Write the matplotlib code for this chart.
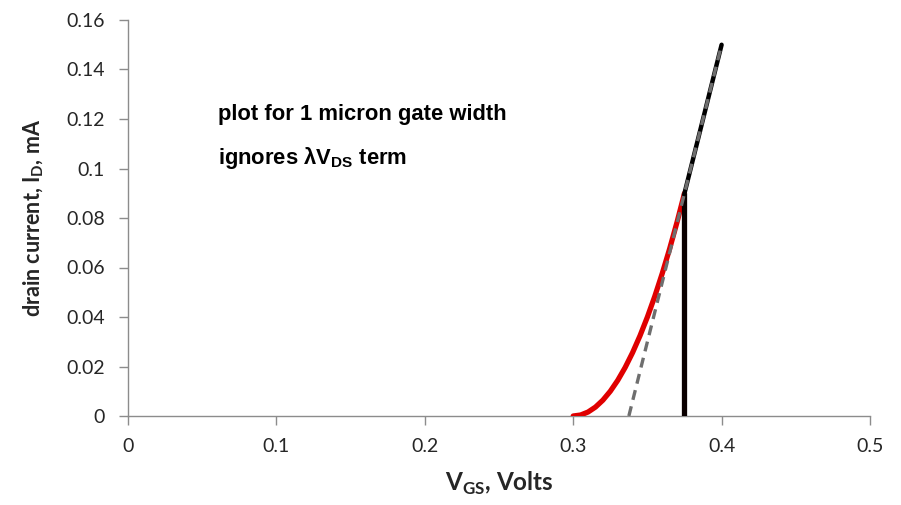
import matplotlib
matplotlib.use("Agg")
import matplotlib.pyplot as plt

# ---- data ----
vgs_red = [0.300, 0.305, 0.310, 0.315, 0.320, 0.325, 0.330, 0.335, 0.340,
           0.345, 0.350, 0.355, 0.360, 0.365, 0.370, 0.375]
id_red = [0.0, 0.0004, 0.0016, 0.0036, 0.0064, 0.0100, 0.0144, 0.0196, 0.0256,
          0.0324, 0.0400, 0.0484, 0.0576, 0.0676, 0.0784, 0.0900]
vgs_black = [0.375, 0.400]
id_black = [0.090, 0.150]
vgs_dash = [0.3375, 0.400]
id_dash = [0.0, 0.150]
vgs_vert = [0.375, 0.375]
id_vert = [0.0, 0.090]

x_ticks = [0, 0.1, 0.2, 0.3, 0.4, 0.5]
x_labels = ["0", "0.1", "0.2", "0.3", "0.4", "0.5"]
y_ticks = [0, 0.02, 0.04, 0.06, 0.08, 0.10, 0.12, 0.14, 0.16]
y_labels = ["0", "0.02", "0.04", "0.06", "0.08", "0.1", "0.12", "0.14", "0.16"]

plt.rcParams['font.family'] = ['Lato', 'DejaVu Sans']
plt.rcParams['mathtext.fontset'] = 'custom'
plt.rcParams['mathtext.rm'] = 'Lato'
plt.rcParams['mathtext.bf'] = 'Lato:bold'
plt.rcParams['mathtext.sf'] = 'Liberation Sans:bold'

fig = plt.figure(figsize=(9.01, 5.05), dpi=100)
ax = fig.add_axes([128/901, 1-416/505, (870-128)/901, (416-20)/505])

ax.plot(vgs_red, id_red, color='#e00000', lw=3.8, solid_capstyle='round', zorder=3)
ax.plot(vgs_vert, id_vert, color='#0a0000', lw=3.8, solid_capstyle='butt', zorder=3)
ax.plot(vgs_black, id_black, color='#000000', lw=3.2, solid_capstyle='round', zorder=3)
ax.plot(vgs_dash, id_dash, color='#6e6e6e', lw=2.4, dashes=(3.0, 2.0), zorder=4)

ax.set_xlim(0, 0.5)
ax.set_ylim(0, 0.16)
ax.set_xticks(x_ticks)
ax.set_xticklabels(x_labels)
ax.set_yticks(y_ticks)
ax.set_yticklabels(y_labels)

for s in ['top', 'right']:
    ax.spines[s].set_visible(False)
for s in ['left', 'bottom']:
    ax.spines[s].set_color('#8c8c8c')
    ax.spines[s].set_linewidth(1.0)
    ax.spines[s].set_zorder(1)
ax.tick_params(axis='both', direction='out', length=6.5, width=1.0, color='#8c8c8c',
               labelsize=14, labelcolor='#262626')
ax.tick_params(axis='x', pad=9)
ax.tick_params(axis='y', pad=10)

ax.set_xlabel(r"V$_\mathbf{GS}$, Volts", fontsize=17.5, fontweight='bold',
              color='#262626', labelpad=11)
ax.set_ylabel(r"drain current, I$_\mathbf{D}$, mA", fontsize=15.5, fontweight='bold',
              color='#262626', labelpad=15)

ax.text(0.0606, 0.1196, "plot for 1 micron gate width", fontsize=15.8, fontweight='bold',
        family=['Liberation Sans', 'DejaVu Sans'], va='baseline', ha='left')
ax.text(0.0606, 0.1018, r"ignores λV$_\mathsf{DS}$ term", fontsize=15.8, fontweight='bold',
        family=['Liberation Sans', 'DejaVu Sans'], va='baseline', ha='left')

fig.savefig("out.png", dpi=100)
